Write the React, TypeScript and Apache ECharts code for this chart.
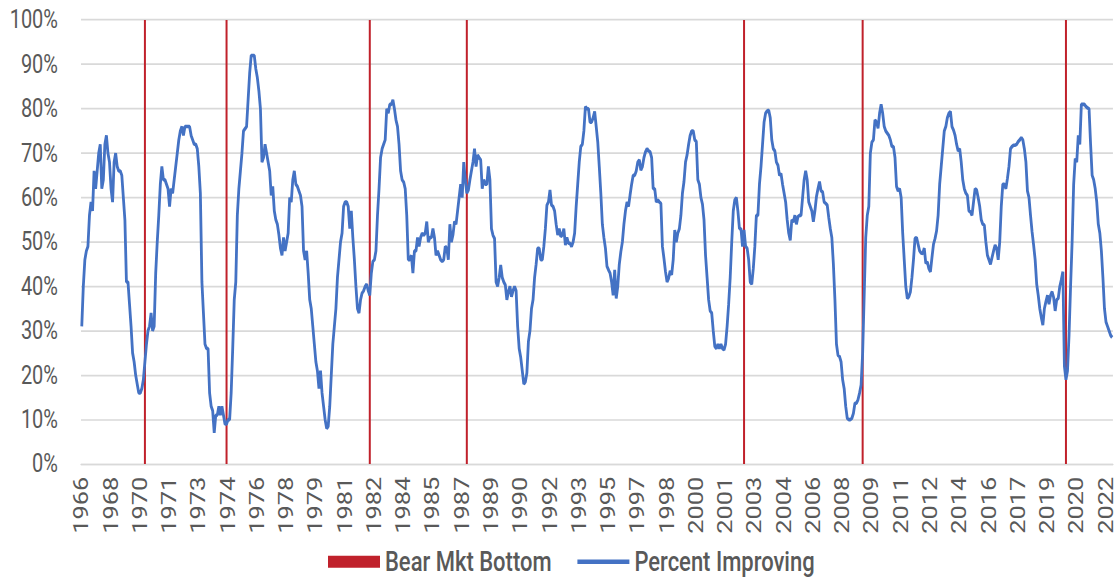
import React, { useEffect, useRef } from "react";
import * as echarts from "echarts";

// Monthly series, first month = December 1966
const START_YEAR = 1966;
const START_MONTH = 12;

const PERCENT_IMPROVING: number[] = [
  31, 40, 46, 48, 49, 56, 59, 57, 66, 62,
  66, 70, 72, 62, 64, 72, 74, 70, 68, 62,
  59, 68, 70, 67, 66, 66, 65, 60, 55, 41,
  41, 36, 31, 25, 23, 20, 18, 16, 16, 17,
  19, 23, 27, 30, 31, 34, 30, 31, 43, 50,
  56, 63, 67, 64, 64, 63, 62, 58, 62, 61,
  64, 67, 70, 73, 75, 76, 74, 76, 76, 76,
  76, 74, 73, 72, 72, 71, 67, 61, 41, 34,
  27, 26, 26, 16, 13, 12, 7, 11, 11, 13,
  11, 13, 11, 9, 9, 10, 10, 16, 26, 37,
  41, 56, 62, 66, 70, 75, 75.5, 76, 82, 88,
  92, 92, 92, 89, 87, 84, 80, 68, 69, 72,
  70, 68, 66, 60.5, 62.5, 57, 55, 54, 51.6, 48.6,
  47, 51, 48, 50, 52, 60, 59, 64, 66, 63,
  62.5, 61.5, 60.5, 58, 48, 46, 48, 43, 37, 35,
  31, 27, 23, 21, 17, 21, 16, 13, 10, 8,
  8.5, 13, 20, 27, 31, 35, 42, 46, 50, 52,
  58, 59, 59, 58, 53, 57, 51, 46, 40, 35,
  34, 37, 38.5, 39, 40, 40.5, 39, 38, 43, 45.6,
  46, 48, 56, 62, 69, 71, 72, 73, 80, 79,
  81, 81, 82, 80, 77.5, 76, 72, 66, 64, 63.5,
  62, 56, 46, 46, 47, 43, 48, 48, 51, 49,
  51, 52, 51.5, 52, 54.6, 50, 51, 51, 53, 51,
  47, 48, 47, 46, 45.6, 46, 49, 48.6, 46, 54,
  50, 51.6, 54.6, 54, 57, 60, 63, 60, 68, 64,
  61, 61.7, 64, 66, 68, 71, 67, 69.6, 69, 68.5,
  62, 64, 63, 63, 67, 64, 53, 51.5, 50.8, 41,
  40, 42, 44.8, 42, 41, 40.3, 37, 38.8, 40, 37.7,
  39, 40, 39, 31, 26, 24, 21, 18, 18.5, 20.5,
  27.6, 30, 35, 37, 42, 45, 48.6, 48.6, 46, 46,
  49, 53, 58.3, 59, 61.7, 58.3, 58, 57, 54, 51.6,
  53, 51.2, 51.6, 53, 49.3, 51, 49.7, 49.7, 49, 50,
  52, 58, 63, 68, 71.5, 72, 75, 80.5, 80, 80,
  77, 77, 78, 79.4, 76, 72.6, 67, 61, 54, 51,
  48.6, 44.5, 43.7, 43, 41, 38, 43.7, 37.3, 40, 45,
  47.8, 50, 54, 57, 59, 58, 60.6, 63, 65, 65,
  66, 68, 68.5, 66.2, 67, 69, 70.3, 71, 70.5, 70.3,
  69, 62, 62, 59, 59.5, 59, 58.7, 49, 46.3, 43.3,
  41, 41.8, 43.5, 42.6, 46, 52.7, 50, 52, 53, 56,
  61, 63.6, 68, 69.6, 72, 74, 75, 75, 73, 72.6,
  64, 63, 60, 58.5, 55, 47, 42, 37, 34.5, 34,
  30, 26.5, 26, 27, 26, 27, 26, 25.7, 27, 31,
  36, 42, 50, 57, 59.5, 60, 57, 53, 53, 49,
  52.7, 49, 48.6, 46, 41, 40.5, 44, 49, 56, 56,
  63, 67, 72, 77, 79, 79.5, 79.7, 78, 73, 71,
  70.5, 68, 67.3, 65, 65.4, 63, 61, 59, 55, 52,
  50.4, 55, 54.5, 56, 54, 55.7, 56, 56, 60, 64,
  66, 64, 59, 58, 57, 54.6, 57, 60.2, 62, 63.6,
  61.5, 61.3, 59, 58.7, 58.3, 55.5, 53, 51, 45, 37,
  27, 24.5, 24.2, 23, 19, 17, 13, 10.3, 10, 10,
  10.3, 11.4, 13.7, 13.7, 14.5, 16, 17.8, 25, 38, 51,
  56, 58, 70, 72.5, 73, 77.5, 77, 75.6, 79, 81,
  79, 76, 75, 74.5, 74, 73, 71.5, 71.5, 69, 62.5,
  61.5, 62, 60, 52, 46, 40, 37.3, 37.7, 38.8, 42,
  46, 50.8, 51, 49.5, 48, 47.5, 47.4, 48.6, 45.2, 45.5,
  44, 43.3, 46.5, 49.5, 50.8, 52.5, 56, 63, 67, 71,
  75, 76, 78, 79, 79.4, 76, 75.2, 74, 72, 70.5,
  71, 68, 64, 62, 61, 60.5, 57, 56.8, 56, 59,
  62, 61.7, 60, 58, 55, 54, 53.8, 50, 47, 46,
  45, 46.5, 48, 49.3, 48.6, 46, 50, 58, 63, 63,
  62, 64.3, 67, 71, 71.5, 71.8, 71.8, 72, 72.6, 73,
  73.5, 73, 71, 68, 61.5, 60, 56, 52.3, 49.3, 46,
  40.5, 38, 35, 33, 31.3, 35, 36.6, 38, 36, 38,
  38.8, 37.5, 34.5, 37, 37.3, 40, 41.5, 43.3, 22, 19,
  21, 29, 40, 50, 63, 68.8, 68, 74, 72, 81,
  81, 81, 80.5, 80.2, 80, 72, 65, 64, 62, 59,
  54, 52, 48, 42, 35, 32, 31, 30, 29, 28.5,
];

const BEAR_MKT_BOTTOMS: string[] = [
  "1970-05", "1974-10", "1982-07", "1987-10", "2002-10", "2009-03", "2020-03",
];

const CATEGORIES: string[] = PERCENT_IMPROVING.map((_, i) => {
  const m = START_MONTH - 1 + i;
  const y = START_YEAR + Math.floor(m / 12);
  const mm = (m % 12) + 1;
  return `${y}-${String(mm).padStart(2, "0")}`;
});

const BEAR_VALUES = CATEGORIES.map((c) => (BEAR_MKT_BOTTOMS.includes(c) ? 100 : null));

const W = 1116;
const FULL_H = 577;
const H = 454;
const S = FULL_H / H; // vertical stretch of the reference picture

const FONT = "Roboto, 'Noto Sans', sans-serif";
const TEXT_COLOR = "#595959";
const GRID_COLOR = "#d9d9d9";

export default function App() {
  const ref = useRef<HTMLDivElement>(null);

  useEffect(() => {
    if (!ref.current) return;
    const chart = echarts.init(ref.current, undefined, { renderer: "svg" });
    chart.setOption({
      animation: false,
      backgroundColor: "#ffffff",
      grid: {
        left: 81,
        right: 2,
        top: 20 / S,
        bottom: H - 464 / S,
      },
      legend: {
        left: 323,
        top: 426,
        itemWidth: 52,
        itemHeight: 12 / S,
        itemGap: 24,
        textStyle: { fontSize: 22, color: TEXT_COLOR, fontFamily: FONT, fontWeight: 500 },
        data: [
          { name: "Bear Mkt Bottom", icon: "rect" },
          {
            name: "Percent Improving",
            itemStyle: { opacity: 0 },
            lineStyle: { width: 3.4 },
          },
        ],
      },
      xAxis: {
        type: "category",
        data: CATEGORIES,
        boundaryGap: true,
        axisLine: { lineStyle: { color: GRID_COLOR, width: 1.3 } },
        axisTick: { show: false },
        axisLabel: {
          interval: 18,
          rotate: 90,
          margin: 10,
          fontSize: 20,
          color: TEXT_COLOR,
          fontFamily: FONT,
          formatter: (v: string) => v.slice(0, 4),
        },
        splitLine: { show: false },
      },
      yAxis: {
        type: "value",
        min: 0,
        max: 100,
        interval: 10,
        axisLine: { show: false },
        axisTick: { show: false },
        axisLabel: {
          formatter: "{value}%",
          fontSize: 20,
          color: TEXT_COLOR,
          fontFamily: FONT,
          margin: 23,
        },
        splitLine: { lineStyle: { color: GRID_COLOR, width: 1.3 } },
      },
      series: [
        {
          name: "Bear Mkt Bottom",
          type: "bar",
          data: BEAR_VALUES,
          barWidth: 2,
          itemStyle: { color: "#C0212B" },
          silent: true,
        },
        {
          name: "Percent Improving",
          type: "line",
          data: PERCENT_IMPROVING,
          symbol: "none",
          showSymbol: false,
          lineStyle: { color: "#4472C4", width: 2.8 },
          itemStyle: { color: "#4472C4" },
          silent: true,
        },
      ],
    });
    return () => chart.dispose();
  }, []);

  return (
    <div
      ref={ref}
      style={{
        position: "fixed",
        left: 0,
        top: 0,
        width: W,
        height: H,
        transform: `scaleY(${S})`,
        transformOrigin: "0 0",
        background: "#fff",
      }}
    />
  );
}
